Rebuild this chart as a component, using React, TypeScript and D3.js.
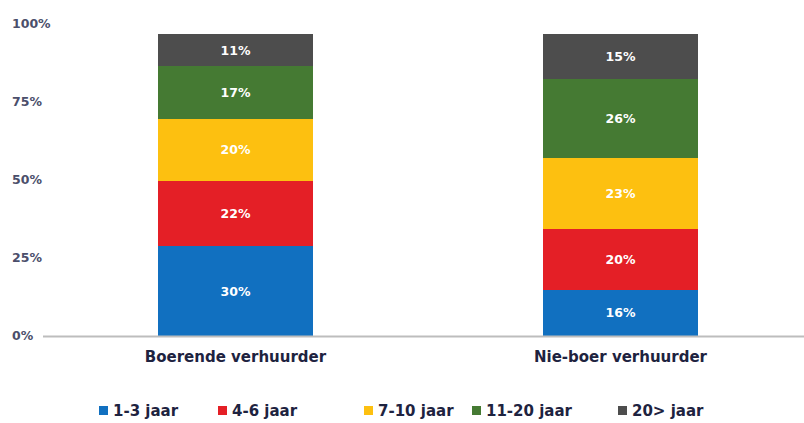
import { useEffect, useRef } from "react";
import * as d3 from "d3";

// landlord categories (x axis)
const categories = ["Boerende verhuurder", "Nie-boer verhuurder"];
// lease-length groups, bottom to top
const seriesNames = ["1-3 jaar", "4-6 jaar", "7-10 jaar", "11-20 jaar", "20> jaar"];
const seriesColors = ["#1170c0", "#e41f26", "#fdc010", "#457a33", "#4d4d4d"];
// segment heights (per category, same order as seriesNames)
const boerendeValues = [28.7, 21.1, 19.6, 17.1, 10.2];
const nieBoerValues = [14.8, 19.5, 22.8, 25.2, 14.5];
// printed labels inside the segments
const boerendeLabels = ["30%", "22%", "20%", "17%", "11%"];
const nieBoerLabels = ["16%", "20%", "23%", "26%", "15%"];
const yTicks = [0, 25, 50, 75, 100];

export default function App() {
  const ref = useRef<SVGSVGElement>(null);

  useEffect(() => {
    const width = 804;
    const height = 423;
    const svg = d3.select(ref.current);
    svg.selectAll("*").remove();

    const rows = categories.map((c, i) => {
      const vals = i === 0 ? boerendeValues : nieBoerValues;
      const row: any = { category: c };
      seriesNames.forEach((s, j) => (row[s] = vals[j]));
      return row;
    });
    const labels = [boerendeLabels, nieBoerLabels];

    const x = d3
      .scaleBand()
      .domain(categories)
      .range([43, 813])
      .paddingInner(0.597)
      .paddingOuter(0.2985);

    const y = d3.scaleLinear().domain([0, 100]).range([336, 24]);

    const color = d3.scaleOrdinal<string, string>().domain(seriesNames).range(seriesColors);

    const stacked = d3.stack().keys(seriesNames)(rows);

    // y tick labels
    svg
      .append("g")
      .selectAll("text")
      .data(yTicks)
      .enter()
      .append("text")
      .attr("x", 12)
      .attr("y", (d) => y(d))
      .attr("dy", "0.35em")
      .style("font-family", "'DejaVu Sans', sans-serif")
      .style("font-weight", "bold")
      .style("font-size", "12.5px")
      .attr("fill", "#4b4f6b")
      .text((d) => d + "%");

    // bars
    const layer = svg
      .append("g")
      .selectAll("g")
      .data(stacked)
      .enter()
      .append("g")
      .attr("fill", (d) => color(d.key));

    layer
      .selectAll("rect")
      .data((d) => d)
      .enter()
      .append("rect")
      .attr("x", (d: any) => x(d.data.category)!)
      .attr("y", (d) => y(d[1]))
      .attr("width", x.bandwidth())
      .attr("height", (d) => y(d[0]) - y(d[1]))
      .attr("shape-rendering", "crispEdges");

    // segment labels
    stacked.forEach((s, j) => {
      svg
        .append("g")
        .selectAll("text")
        .data(s)
        .enter()
        .append("text")
        .attr("x", (d: any) => x(d.data.category)! + x.bandwidth() / 2)
        .attr("y", (d) => (y(d[0]) + y(d[1])) / 2)
        .attr("dy", "0.35em")
        .attr("text-anchor", "middle")
        .style("font-family", "'DejaVu Sans', sans-serif")
        .style("font-weight", "bold")
        .style("font-size", "12.5px")
        .attr("fill", "#ffffff")
        .text((_, i) => labels[i][j]);
    });

    // baseline
    svg
      .append("line")
      .attr("x1", 43)
      .attr("x2", width)
      .attr("y1", y(0) + 0.5)
      .attr("y2", y(0) + 0.5)
      .attr("stroke", "#bdbdbd")
      .attr("stroke-width", 2);

    // category labels
    svg
      .append("g")
      .selectAll("text")
      .data(categories)
      .enter()
      .append("text")
      .attr("x", (d) => x(d)! + x.bandwidth() / 2)
      .attr("y", 362)
      .attr("text-anchor", "middle")
      .style("font-family", "'DejaVu Sans', sans-serif")
      .style("font-weight", "bold")
      .style("font-size", "15px")
      .attr("fill", "#1e2340")
      .text((d) => d);

    // legend
    const legendX = [99, 218, 364, 472, 618];
    const legend = svg
      .append("g")
      .selectAll("g")
      .data(seriesNames)
      .enter()
      .append("g")
      .attr("transform", (_, i) => `translate(${legendX[i]}, 411)`);

    legend
      .append("rect")
      .attr("x", 0)
      .attr("y", -5)
      .attr("width", 9)
      .attr("height", 9)
      .attr("fill", (d) => color(d));

    legend
      .append("text")
      .attr("x", 14)
      .attr("y", 0)
      .attr("dy", "0.35em")
      .style("font-family", "'DejaVu Sans', sans-serif")
      .style("font-weight", "bold")
      .style("font-size", "15px")
      .attr("fill", "#1e2340")
      .text((d) => d);

    svg.attr("width", width).attr("height", height);
  }, []);

  return (
    <svg
      ref={ref}
      width={804}
      height={423}
      style={{ position: "absolute", left: 0, top: 0, background: "#fff" }}
    />
  );
}
